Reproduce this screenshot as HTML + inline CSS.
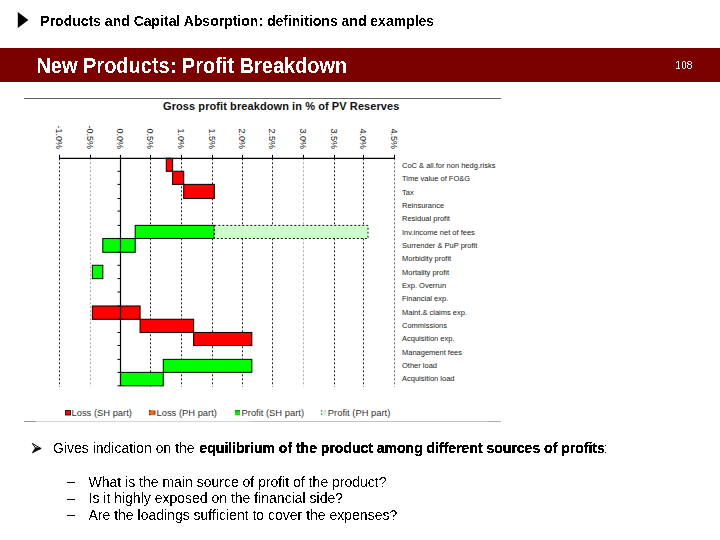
<!DOCTYPE html>
<html><head><meta charset="utf-8"><title>New Products: Profit Breakdown</title>
<style>
html,body{margin:0;padding:0;background:#fff;}
body{width:720px;height:540px;overflow:hidden;position:relative;}
svg{position:absolute;left:0;top:0;display:block;}
</style></head><body>
<svg width="720" height="540" viewBox="0 0 720 540">
<filter id="al" color-interpolation-filters="sRGB"><feComponentTransfer><feFuncA type="discrete" tableValues="0 0 0 0 0 1 1 1 1 1"/></feComponentTransfer></filter>
<filter id="ab" color-interpolation-filters="sRGB"><feComponentTransfer><feFuncA type="discrete" tableValues="0 0 0 1 1 1 1 1 1 1"/></feComponentTransfer></filter>
<polygon points="17.8,12 28.4,20 17.8,28" fill="#000"/>
<rect x="0" y="48" width="720" height="34" fill="#7b0000"/>
<g filter="url(#al)">
<text x="40.3" y="26" font-family="Liberation Sans, Arial, sans-serif" font-weight="bold" font-size="14">Products and Capital Absorption: definitions and examples</text>
</g>
<text filter="url(#al)" transform="translate(36.4,73.1) scale(0.926,1)" font-family="Liberation Sans, Arial, sans-serif" font-weight="bold" font-size="21.6" fill="#fff">New Products: Profit Breakdown</text>
<text x="675.6" y="69.4" font-family="Liberation Sans, Arial, sans-serif" font-size="10" letter-spacing="0.05" fill="#fff" filter="url(#al)">108</text>
<line x1="24" y1="98.5" x2="501" y2="98.5" stroke="#606060" stroke-width="1"/>
<line x1="24" y1="421.5" x2="36" y2="421.5" stroke="#999" stroke-width="1"/>
<line x1="36" y1="421.5" x2="250" y2="421.5" stroke="#d4d4d4" stroke-width="1"/>
<line x1="250" y1="421.5" x2="488" y2="421.5" stroke="#c4c4c4" stroke-width="1"/>
<line x1="488" y1="421.5" x2="501" y2="421.5" stroke="#aaa" stroke-width="1"/>
<text x="163" y="110" font-family="Liberation Sans, Arial, sans-serif" font-weight="bold" font-size="11" letter-spacing="0.085" fill="#111">Gross profit breakdown in % of PV Reserves</text>
<line x1="59.5" y1="158.3" x2="59.5" y2="386.8" stroke="#222" stroke-width="1" stroke-dasharray="2,2"/>
<line x1="59.5" y1="154.8" x2="59.5" y2="158.3" stroke="#000" stroke-width="1"/>
<text transform="translate(56.3,149) rotate(90)" text-anchor="end" font-family="Liberation Sans, Arial, sans-serif" font-size="9" fill="#222">-1.0%</text>
<line x1="90.5" y1="158.3" x2="90.5" y2="386.8" stroke="#aaa" stroke-width="1" stroke-dasharray="2,2"/>
<line x1="90.5" y1="154.8" x2="90.5" y2="158.3" stroke="#000" stroke-width="1"/>
<text transform="translate(87.3,149) rotate(90)" text-anchor="end" font-family="Liberation Sans, Arial, sans-serif" font-size="9" fill="#222">-0.5%</text>
<line x1="120.5" y1="154.8" x2="120.5" y2="158.3" stroke="#000" stroke-width="1"/>
<text transform="translate(117.3,149) rotate(90)" text-anchor="end" font-family="Liberation Sans, Arial, sans-serif" font-size="9" fill="#222">0.0%</text>
<line x1="150.5" y1="158.3" x2="150.5" y2="386.8" stroke="#222" stroke-width="1" stroke-dasharray="2,2"/>
<line x1="150.5" y1="154.8" x2="150.5" y2="158.3" stroke="#000" stroke-width="1"/>
<text transform="translate(147.3,149) rotate(90)" text-anchor="end" font-family="Liberation Sans, Arial, sans-serif" font-size="9" fill="#222">0.5%</text>
<line x1="181.5" y1="158.3" x2="181.5" y2="386.8" stroke="#222" stroke-width="1" stroke-dasharray="2,2"/>
<line x1="181.5" y1="154.8" x2="181.5" y2="158.3" stroke="#000" stroke-width="1"/>
<text transform="translate(178.3,149) rotate(90)" text-anchor="end" font-family="Liberation Sans, Arial, sans-serif" font-size="9" fill="#222">1.0%</text>
<line x1="212.5" y1="158.3" x2="212.5" y2="386.8" stroke="#222" stroke-width="1" stroke-dasharray="2,2"/>
<line x1="212.5" y1="154.8" x2="212.5" y2="158.3" stroke="#000" stroke-width="1"/>
<text transform="translate(209.3,149) rotate(90)" text-anchor="end" font-family="Liberation Sans, Arial, sans-serif" font-size="9" fill="#222">1.5%</text>
<line x1="242.5" y1="158.3" x2="242.5" y2="386.8" stroke="#222" stroke-width="1" stroke-dasharray="2,2"/>
<line x1="242.5" y1="154.8" x2="242.5" y2="158.3" stroke="#000" stroke-width="1"/>
<text transform="translate(239.3,149) rotate(90)" text-anchor="end" font-family="Liberation Sans, Arial, sans-serif" font-size="9" fill="#222">2.0%</text>
<line x1="272.5" y1="158.3" x2="272.5" y2="386.8" stroke="#222" stroke-width="1" stroke-dasharray="2,2"/>
<line x1="272.5" y1="154.8" x2="272.5" y2="158.3" stroke="#000" stroke-width="1"/>
<text transform="translate(269.3,149) rotate(90)" text-anchor="end" font-family="Liberation Sans, Arial, sans-serif" font-size="9" fill="#222">2.5%</text>
<line x1="303.5" y1="158.3" x2="303.5" y2="386.8" stroke="#aaa" stroke-width="1" stroke-dasharray="2,2"/>
<line x1="303.5" y1="154.8" x2="303.5" y2="158.3" stroke="#000" stroke-width="1"/>
<text transform="translate(300.3,149) rotate(90)" text-anchor="end" font-family="Liberation Sans, Arial, sans-serif" font-size="9" fill="#222">3.0%</text>
<line x1="334.5" y1="158.3" x2="334.5" y2="386.8" stroke="#222" stroke-width="1" stroke-dasharray="2,2"/>
<line x1="334.5" y1="154.8" x2="334.5" y2="158.3" stroke="#000" stroke-width="1"/>
<text transform="translate(331.3,149) rotate(90)" text-anchor="end" font-family="Liberation Sans, Arial, sans-serif" font-size="9" fill="#222">3.5%</text>
<line x1="363.5" y1="158.3" x2="363.5" y2="386.8" stroke="#222" stroke-width="1" stroke-dasharray="2,2"/>
<line x1="363.5" y1="154.8" x2="363.5" y2="158.3" stroke="#000" stroke-width="1"/>
<text transform="translate(360.3,149) rotate(90)" text-anchor="end" font-family="Liberation Sans, Arial, sans-serif" font-size="9" fill="#222">4.0%</text>
<line x1="394.5" y1="158.3" x2="394.5" y2="386.8" stroke="#666" stroke-width="1" stroke-dasharray="2,2"/>
<line x1="394.5" y1="154.8" x2="394.5" y2="158.3" stroke="#000" stroke-width="1"/>
<text transform="translate(391.3,149) rotate(90)" text-anchor="end" font-family="Liberation Sans, Arial, sans-serif" font-size="9" fill="#222">4.5%</text>
<rect x="166.3" y="158.3" width="6.3" height="13.0" fill="#ff0000" stroke="#1a0000" stroke-width="1.1"/>
<rect x="172.6" y="171.3" width="11.1" height="13.1" fill="#ff0000" stroke="#1a0000" stroke-width="1.1"/>
<rect x="183.7" y="184.4" width="30.6" height="14.1" fill="#ff0000" stroke="#1a0000" stroke-width="1.1"/>
<rect x="135.2" y="225.4" width="79.1" height="13.1" fill="#00ff00" stroke="#002000" stroke-width="1.1"/>
<rect x="214.3" y="225.4" width="153.7" height="13.1" fill="#ccffcc" stroke="#111" stroke-width="1" stroke-dasharray="2,2"/>
<rect x="102.8" y="238.5" width="32.4" height="13.8" fill="#00ff00" stroke="#002000" stroke-width="1.1"/>
<rect x="92.4" y="265.3" width="10.4" height="13.3" fill="#00ff00" stroke="#002000" stroke-width="1.1"/>
<rect x="92.4" y="306.0" width="47.7" height="13.3" fill="#ff0000" stroke="#1a0000" stroke-width="1.1"/>
<rect x="140.1" y="319.3" width="53.5" height="13.2" fill="#ff0000" stroke="#1a0000" stroke-width="1.1"/>
<rect x="193.6" y="332.5" width="58.2" height="13.0" fill="#ff0000" stroke="#1a0000" stroke-width="1.1"/>
<rect x="163.3" y="359.4" width="88.5" height="13.0" fill="#00ff00" stroke="#002000" stroke-width="1.1"/>
<rect x="120.5" y="372.4" width="42.8" height="13.4" fill="#00ff00" stroke="#002000" stroke-width="1.1"/>
<line x1="59" y1="158.3" x2="395" y2="158.3" stroke="#000" stroke-width="1.2"/>
<line x1="120.5" y1="155.3" x2="120.5" y2="385.8" stroke="#000" stroke-width="1.2"/>
<line x1="117.5" y1="171.3" x2="120.5" y2="171.3" stroke="#000" stroke-width="1"/>
<line x1="117.5" y1="184.4" x2="120.5" y2="184.4" stroke="#000" stroke-width="1"/>
<line x1="117.5" y1="198.5" x2="120.5" y2="198.5" stroke="#000" stroke-width="1"/>
<line x1="117.5" y1="211.1" x2="120.5" y2="211.1" stroke="#000" stroke-width="1"/>
<line x1="117.5" y1="225.4" x2="120.5" y2="225.4" stroke="#000" stroke-width="1"/>
<line x1="117.5" y1="238.5" x2="120.5" y2="238.5" stroke="#000" stroke-width="1"/>
<line x1="117.5" y1="252.3" x2="120.5" y2="252.3" stroke="#000" stroke-width="1"/>
<line x1="117.5" y1="265.3" x2="120.5" y2="265.3" stroke="#000" stroke-width="1"/>
<line x1="117.5" y1="278.6" x2="120.5" y2="278.6" stroke="#000" stroke-width="1"/>
<line x1="117.5" y1="292.0" x2="120.5" y2="292.0" stroke="#000" stroke-width="1"/>
<line x1="117.5" y1="306.0" x2="120.5" y2="306.0" stroke="#000" stroke-width="1"/>
<line x1="117.5" y1="319.3" x2="120.5" y2="319.3" stroke="#000" stroke-width="1"/>
<line x1="117.5" y1="332.5" x2="120.5" y2="332.5" stroke="#000" stroke-width="1"/>
<line x1="117.5" y1="345.5" x2="120.5" y2="345.5" stroke="#000" stroke-width="1"/>
<line x1="117.5" y1="359.4" x2="120.5" y2="359.4" stroke="#000" stroke-width="1"/>
<line x1="117.5" y1="372.4" x2="120.5" y2="372.4" stroke="#000" stroke-width="1"/>
<line x1="117.5" y1="385.8" x2="120.5" y2="385.8" stroke="#000" stroke-width="1"/>
<text x="402" y="168.1" font-family="Liberation Sans, Arial, sans-serif" font-size="7.5" fill="#222">CoC &amp; all.for non hedg.risks</text>
<text x="402" y="181.4" font-family="Liberation Sans, Arial, sans-serif" font-size="7.5" fill="#222">Time value of FO&amp;G</text>
<text x="402" y="194.8" font-family="Liberation Sans, Arial, sans-serif" font-size="7.5" fill="#222">Tax</text>
<text x="402" y="208.1" font-family="Liberation Sans, Arial, sans-serif" font-size="7.5" fill="#222">Reinsurance</text>
<text x="402" y="221.4" font-family="Liberation Sans, Arial, sans-serif" font-size="7.5" fill="#222">Residual profit</text>
<text x="402" y="234.8" font-family="Liberation Sans, Arial, sans-serif" font-size="7.5" fill="#222">Inv.income net of fees</text>
<text x="402" y="248.1" font-family="Liberation Sans, Arial, sans-serif" font-size="7.5" fill="#222">Surrender &amp; PuP profit</text>
<text x="402" y="261.4" font-family="Liberation Sans, Arial, sans-serif" font-size="7.5" fill="#222">Morbidity profit</text>
<text x="402" y="274.7" font-family="Liberation Sans, Arial, sans-serif" font-size="7.5" fill="#222">Mortality profit</text>
<text x="402" y="288.1" font-family="Liberation Sans, Arial, sans-serif" font-size="7.5" fill="#222">Exp. Overrun</text>
<text x="402" y="301.4" font-family="Liberation Sans, Arial, sans-serif" font-size="7.5" fill="#222">Financial exp.</text>
<text x="402" y="314.7" font-family="Liberation Sans, Arial, sans-serif" font-size="7.5" fill="#222">Maint.&amp; claims exp.</text>
<text x="402" y="328.1" font-family="Liberation Sans, Arial, sans-serif" font-size="7.5" fill="#222">Commissions</text>
<text x="402" y="341.4" font-family="Liberation Sans, Arial, sans-serif" font-size="7.5" fill="#222">Acquisition exp.</text>
<text x="402" y="354.7" font-family="Liberation Sans, Arial, sans-serif" font-size="7.5" fill="#222">Management fees</text>
<text x="402" y="368.0" font-family="Liberation Sans, Arial, sans-serif" font-size="7.5" fill="#222">Other load</text>
<text x="402" y="381.4" font-family="Liberation Sans, Arial, sans-serif" font-size="7.5" fill="#222">Acquisition load</text>
<rect x="65.5" y="410.5" width="5" height="4.5" fill="#e3101c" stroke="#3a0000" stroke-width="0.9"/>
<text x="71.5" y="415.8" font-family="Liberation Sans, Arial, sans-serif" font-size="9.4" fill="#333">Loss (SH part)</text>
<rect x="149" y="410.2" width="6.3" height="5" fill="#e86a24"/>
<rect x="149" y="410.2" width="1.6" height="1.3" fill="#5a2a10"/><rect x="149" y="413.9" width="1.6" height="1.3" fill="#5a2a10"/><rect x="154.3" y="411" width="1" height="3.5" fill="#8a3a10"/>
<text x="156.5" y="415.8" font-family="Liberation Sans, Arial, sans-serif" font-size="9.4" fill="#333">Loss (PH part)</text>
<rect x="235" y="410.2" width="5" height="5.2" fill="#18e018"/><rect x="235" y="410.2" width="5" height="1" fill="#0a700a"/>
<text x="241.5" y="415.8" font-family="Liberation Sans, Arial, sans-serif" font-size="9.4" fill="#333">Profit (SH part)</text>
<rect x="320.8" y="410.2" width="5.9" height="5.2" fill="#dcf4dc"/><rect x="320.8" y="410.3" width="1.2" height="1.2" fill="#556655"/><rect x="320.8" y="413.6" width="1.2" height="1.2" fill="#556655"/><rect x="324.8" y="410.3" width="1" height="1" fill="#889988"/>
<text x="327.8" y="415.8" font-family="Liberation Sans, Arial, sans-serif" font-size="9.4" fill="#333">Profit (PH part)</text>
<polygon points="32.3,443.4 40.7,448.4 35.6,448.2" fill="#fff" stroke="#000" stroke-width="1" stroke-linejoin="round"/>
<polygon points="35.6,447.8 41.2,448.4 32.3,452.8" fill="#000" stroke="#000" stroke-width="0.8"/>
<g filter="url(#al)">
<text x="53" y="453" font-family="Liberation Sans, Arial, sans-serif" font-size="14">Gives indication on the</text>
<text x="199.5" y="453" font-family="Liberation Sans, Arial, sans-serif" font-size="14" font-weight="bold" filter="url(#ab)">equilibrium of the product among different sources of profits</text>
<text x="603.7" y="453" font-family="Liberation Sans, Arial, sans-serif" font-size="14">:</text>
<text x="67.2" y="486.15" font-family="Liberation Sans, Arial, sans-serif" font-size="14">&#8211;</text>
<text x="88.5" y="486.75" font-family="Liberation Sans, Arial, sans-serif" font-size="14">What is the main source of profit of the product?</text>
<text x="67.2" y="502.55" font-family="Liberation Sans, Arial, sans-serif" font-size="14">&#8211;</text>
<text x="88.5" y="503.15" font-family="Liberation Sans, Arial, sans-serif" font-size="14">Is it highly exposed on the financial side?</text>
<text x="67.2" y="518.95" font-family="Liberation Sans, Arial, sans-serif" font-size="14">&#8211;</text>
<text x="88.5" y="519.55" font-family="Liberation Sans, Arial, sans-serif" font-size="14">Are the loadings sufficient to cover the expenses?</text>
</g>
</svg>
</body></html>
